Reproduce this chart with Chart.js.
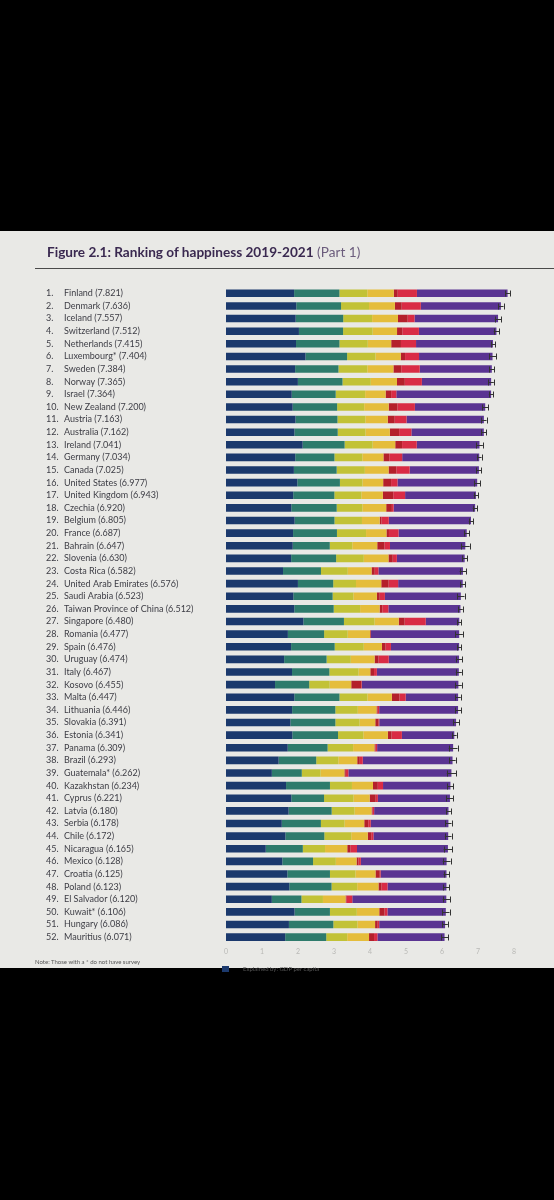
<!DOCTYPE html>
<html><head><meta charset="utf-8">
<script src="https://cdn.jsdelivr.net/npm/chart.js@4.4.0/dist/chart.umd.min.js"></script>
<style>
html,body{margin:0;padding:0;background:#000;width:554px;height:1200px;overflow:hidden;}
#page{position:absolute;left:0;top:231px;width:554px;height:737px;background:#e9e9e6;}
#title{position:absolute;left:47px;top:13px;font-family:Lato,"Open Sans",sans-serif;font-size:13.6px;color:#3a2950;white-space:nowrap;}
#title b{font-weight:700;}
#title span{font-weight:400;color:#6b5c7c;}
#rule{position:absolute;left:35px;top:37px;width:519px;height:1px;background:#4a4a4a;}
#wrap{position:absolute;left:0;top:0;width:554px;height:737px;}
#note{position:absolute;left:35px;top:727px;font-family:Lato,sans-serif;font-size:6px;color:#555;white-space:nowrap;}
#leg{position:absolute;left:222px;top:734px;font-family:Lato,sans-serif;font-size:6px;color:#555;white-space:nowrap;}
#leg i{display:inline-block;width:7px;height:6px;background:#1c3a6e;margin-right:14px;vertical-align:middle;}
</style></head>
<body>
<div id="page">
  <div id="wrap"><canvas id="c" width="554" height="737"></canvas></div>
  <div id="title"><b>Figure 2.1: Ranking of happiness 2019-2021</b> <span>(Part 1)</span></div>
  <div id="rule"></div>
  <div id="note">Note: Those with a * do not have survey</div>
  <div id="leg"><i></i>Explained by: GDP per capita</div>
</div>
<script>
const countries = ["Finland","Denmark","Iceland","Switzerland","Netherlands","Luxembourg*","Sweden","Norway","Israel","New Zealand","Austria","Australia","Ireland","Germany","Canada","United States","United Kingdom","Czechia","Belgium","France","Bahrain","Slovenia","Costa Rica","United Arab Emirates","Saudi Arabia","Taiwan Province of China","Singapore","Romania","Spain","Uruguay","Italy","Kosovo","Malta","Lithuania","Slovakia","Estonia","Panama","Brazil","Guatemala*","Kazakhstan","Cyprus","Latvia","Serbia","Chile","Nicaragua","Mexico","Croatia","Poland","El Salvador","Kuwait*","Hungary","Mauritius"];
const scores = ["7.821","7.636","7.557","7.512","7.415","7.404","7.384","7.365","7.364","7.200","7.163","7.162","7.041","7.034","7.025","6.977","6.943","6.920","6.805","6.687","6.647","6.630","6.582","6.576","6.523","6.512","6.480","6.477","6.476","6.474","6.467","6.455","6.447","6.446","6.391","6.341","6.309","6.293","6.262","6.234","6.221","6.180","6.178","6.172","6.165","6.128","6.125","6.123","6.120","6.106","6.086","6.071"];
const gdp = [1.892,1.953,1.936,2.026,1.945,2.209,1.920,1.997,1.826,1.852,1.931,1.900,2.129,1.924,1.886,1.982,1.867,1.815,1.907,1.863,1.854,1.810,1.584,1.998,1.870,1.897,2.149,1.719,1.808,1.615,1.834,1.362,1.898,1.837,1.789,1.843,1.715,1.462,1.274,1.668,1.815,1.739,1.550,1.651,1.105,1.564,1.705,1.758,1.273,1.904,1.748,1.644];
const social = [1.258,1.243,1.320,1.226,1.206,1.155,1.204,1.239,1.221,1.235,1.165,1.203,1.166,1.088,1.188,1.182,1.143,1.260,1.106,1.219,1.029,1.249,1.054,0.980,1.092,1.095,1.127,1.006,1.211,1.179,1.037,0.949,1.254,1.200,1.249,1.269,1.107,1.044,0.831,1.220,0.909,1.196,1.086,1.080,1.029,0.854,1.183,1.174,0.822,0.983,1.233,1.140];
const health = [0.775,0.777,0.803,0.822,0.787,0.790,0.803,0.786,0.818,0.752,0.774,0.772,0.779,0.776,0.783,0.628,0.750,0.715,0.764,0.808,0.625,0.769,0.744,0.633,0.577,0.733,0.851,0.655,0.808,0.672,0.812,0.569,0.778,0.624,0.674,0.703,0.709,0.615,0.522,0.611,0.819,0.637,0.658,0.748,0.617,0.633,0.709,0.712,0.598,0.747,0.670,0.583];
const freedom = [0.736,0.719,0.718,0.677,0.651,0.700,0.724,0.728,0.568,0.680,0.623,0.676,0.627,0.585,0.659,0.574,0.597,0.660,0.492,0.567,0.693,0.685,0.661,0.702,0.651,0.542,0.672,0.622,0.505,0.662,0.325,0.599,0.678,0.519,0.434,0.681,0.592,0.524,0.662,0.584,0.448,0.471,0.546,0.459,0.617,0.575,0.555,0.591,0.628,0.623,0.490,0.606];
const generosity = [0.109,0.188,0.270,0.147,0.271,0.120,0.218,0.217,0.155,0.245,0.193,0.258,0.190,0.163,0.217,0.220,0.289,0.158,0.049,0.070,0.199,0.118,0.089,0.204,0.080,0.075,0.163,0.020,0.101,0.110,0.104,0.278,0.210,0.031,0.092,0.100,0.028,0.071,0.038,0.134,0.167,0.025,0.112,0.097,0.087,0.054,0.119,0.081,0.024,0.147,0.073,0.139];
const corruption = [0.534,0.532,0.191,0.461,0.419,0.388,0.512,0.474,0.143,0.483,0.329,0.341,0.408,0.358,0.368,0.177,0.329,0.048,0.204,0.266,0.155,0.115,0.102,0.265,0.144,0.168,0.587,0.005,0.149,0.283,0.079,0.017,0.173,0.044,0.020,0.290,0.047,0.084,0.072,0.145,0.061,0.047,0.069,0.060,0.184,0.066,0.024,0.170,0.163,0.080,0.042,0.094];
const dystopia = [2.517,2.224,2.319,2.153,2.136,2.042,2.003,1.924,2.633,1.953,2.148,2.012,1.742,2.140,1.924,2.214,1.968,2.264,2.283,1.894,2.092,1.884,2.348,1.794,2.109,2.002,0.931,2.450,1.894,1.953,2.276,2.681,1.456,2.191,2.133,1.455,2.111,2.493,2.863,1.872,2.002,2.065,2.157,2.077,2.526,2.382,1.830,1.637,2.612,1.622,1.830,1.865];
const ciLow = [7.756,7.563,7.464,7.437,7.359,7.307,7.315,7.290,7.301,7.120,7.089,7.087,6.947,6.969,6.958,6.892,6.882,6.854,6.744,6.624,6.525,6.554,6.490,6.503,6.420,6.448,6.421,6.374,6.416,6.382,6.383,6.360,6.372,6.362,6.302,6.275,6.187,6.207,6.133,6.151,6.123,6.114,6.090,6.078,6.045,6.019,6.043,6.041,6.019,6.003,6.009,5.975];
const ciHigh = [7.886,7.710,7.651,7.586,7.471,7.501,7.454,7.440,7.426,7.279,7.237,7.236,7.135,7.099,7.092,7.061,7.004,6.986,6.867,6.750,6.769,6.706,6.674,6.649,6.625,6.576,6.539,6.580,6.536,6.566,6.551,6.550,6.522,6.530,6.480,6.407,6.431,6.379,6.391,6.317,6.319,6.246,6.266,6.266,6.285,6.237,6.207,6.205,6.221,6.209,6.163,6.167];
const xTicks = [0,1,2,3,4,5,6,7,8];

const labels = countries.map((c,i)=>c+" ("+scores[i]+")");
const ranks = countries.map((c,i)=>(i+1)+".");

const segs = [
  {label:"GDP per capita", data:gdp, color:"#1b396d"},
  {label:"Social support", data:social, color:"#2e7b6c"},
  {label:"Healthy life expectancy", data:health, color:"#c2c236"},
  {label:"Freedom to make life choices", data:freedom, color:"#e5bd3b"},
  {label:"Generosity", data:generosity, color:"#b4202b"},
  {label:"Perceptions of corruption", data:corruption, color:"#d92c45"},
  {label:"Dystopia (1.83) + residual", data:dystopia, color:"#5a3492"}
];

const errPlugin = {
  id:"err",
  afterDatasetsDraw(chart){
    const ctx = chart.ctx, xs = chart.scales.x, ys = chart.scales.y;
    ctx.save();
    ctx.strokeStyle = "#333";
    ctx.lineWidth = 1;
    for(let i=0;i<countries.length;i++){
      const y = Math.round(ys.getPixelForValue(i))+0.5;
      const a = xs.getPixelForValue(ciLow[i]), b = xs.getPixelForValue(ciHigh[i]);
      ctx.beginPath();
      ctx.moveTo(a,y); ctx.lineTo(b,y);
      ctx.moveTo(Math.round(a)+0.5,y-3); ctx.lineTo(Math.round(a)+0.5,y+3);
      ctx.moveTo(Math.round(b)+0.5,y-3); ctx.lineTo(Math.round(b)+0.5,y+3);
      ctx.stroke();
    }
    ctx.restore();
  }
};

new Chart(document.getElementById("c"), {
  type:"bar",
  data:{
    labels: labels,
    datasets: segs.map(s=>({label:s.label,data:s.data,backgroundColor:s.color,borderWidth:0,barPercentage:0.6,categoryPercentage:1.0}))
  },
  options:{
    indexAxis:"y",
    responsive:false,
    animation:false,
    layout:{padding:{top:56,left:46,right:40,bottom:0}},
    plugins:{legend:{display:false},tooltip:{enabled:false}},
    scales:{
      x:{
        stacked:true, min:0, max:8,
        afterBuildTicks(s){ s.ticks = xTicks.map(v=>({value:v})); },
        grid:{display:false, drawTicks:false},
        border:{display:false},
        ticks:{color:"#b9b9b6", font:{family:"Lato", size:7}, padding:4},
        afterFit(s){ s.height = 24.6; }
      },
      y:{
        stacked:true,
        weight:0,
        grid:{display:false, drawTicks:false},
        border:{display:false},
        ticks:{crossAlign:"far", color:"#3d3d45", font:{family:"Lato", size:9}, autoSkip:false, padding:0},
        afterFit(s){ s.width = 162; }
      },
      yr:{
        type:"category",
        position:"left",
        labels: ranks,
        offset:true,
        weight:1,
        grid:{display:false, drawTicks:false},
        border:{display:false},
        ticks:{crossAlign:"far", color:"#3d3d45", font:{family:"Lato", size:9}, autoSkip:false, padding:0},
        afterFit(s){ s.width = 18; }
      }
    }
  },
  plugins:[errPlugin]
});
</script>
</body></html>
